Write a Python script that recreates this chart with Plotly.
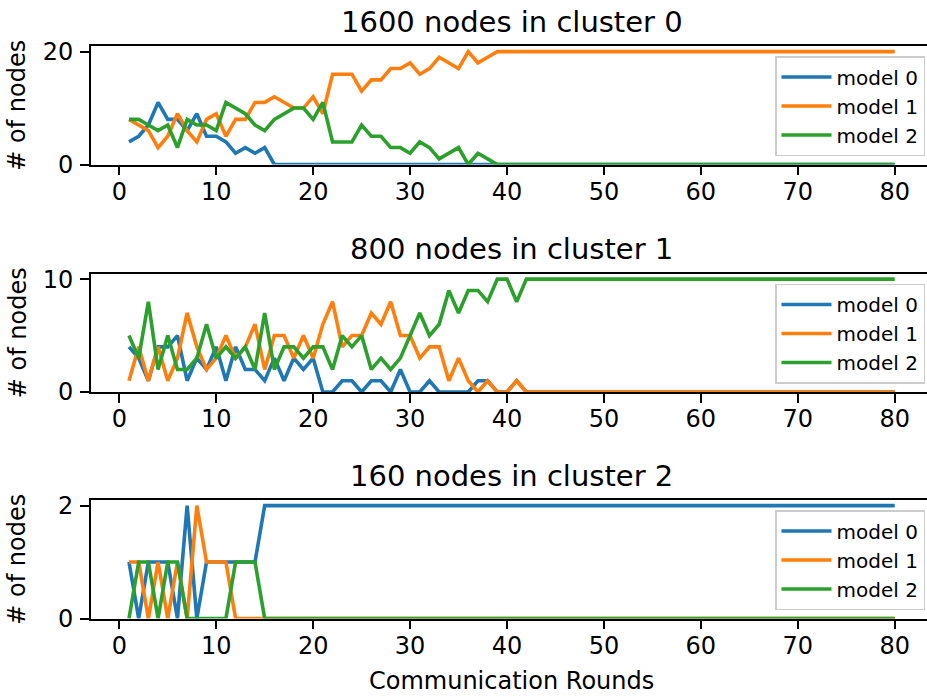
import plotly.graph_objects as go

rounds = list(range(1, 81))

# cluster 0 (1600 nodes)
c0_model0 = [4, 5, 7, 11, 8, 8, 6, 9, 5, 5, 4, 2, 3, 2, 3, 0, 0, 0, 0, 0,
             0, 0, 0, 0, 0, 0, 0, 0, 0, 0, 0, 0, 0, 0, 0, 0, 0, 0, 0, 0,
             0, 0, 0, 0, 0, 0, 0, 0, 0, 0, 0, 0, 0, 0, 0, 0, 0, 0, 0, 0,
             0, 0, 0, 0, 0, 0, 0, 0, 0, 0, 0, 0, 0, 0, 0, 0, 0, 0, 0, 0]
c0_model1 = [8, 7, 6, 3, 5, 9, 6, 4, 8, 9, 5, 8, 8, 11, 11, 12, 11, 10, 10, 12,
             9, 16, 16, 16, 13, 15, 15, 17, 17, 18, 16, 17, 19, 18, 17, 20, 18, 19, 20, 20,
             20, 20, 20, 20, 20, 20, 20, 20, 20, 20, 20, 20, 20, 20, 20, 20, 20, 20, 20, 20,
             20, 20, 20, 20, 20, 20, 20, 20, 20, 20, 20, 20, 20, 20, 20, 20, 20, 20, 20, 20]
c0_model2 = [8, 8, 7, 6, 7, 3, 8, 7, 7, 6, 11, 10, 9, 7, 6, 8, 9, 10, 10, 8,
             11, 4, 4, 4, 7, 5, 5, 3, 3, 2, 4, 3, 1, 2, 3, 0, 2, 1, 0, 0,
             0, 0, 0, 0, 0, 0, 0, 0, 0, 0, 0, 0, 0, 0, 0, 0, 0, 0, 0, 0,
             0, 0, 0, 0, 0, 0, 0, 0, 0, 0, 0, 0, 0, 0, 0, 0, 0, 0, 0, 0]

# cluster 1 (800 nodes)
c1_model0 = [4, 3, 1, 4, 4, 5, 1, 3, 2, 4, 1, 4, 2, 2, 1, 3, 1, 3, 2, 3,
             0, 0, 1, 1, 0, 1, 1, 0, 2, 0, 0, 1, 0, 0, 0, 0, 1, 1, 0, 0,
             1, 0, 0, 0, 0, 0, 0, 0, 0, 0, 0, 0, 0, 0, 0, 0, 0, 0, 0, 0,
             0, 0, 0, 0, 0, 0, 0, 0, 0, 0, 0, 0, 0, 0, 0, 0, 0, 0, 0, 0]
c1_model1 = [1, 4, 1, 4, 1, 3, 7, 4, 2, 3, 5, 3, 4, 6, 2, 5, 5, 3, 5, 3,
             6, 8, 4, 5, 5, 7, 6, 8, 5, 5, 3, 4, 4, 1, 3, 1, 0, 1, 0, 0,
             1, 0, 0, 0, 0, 0, 0, 0, 0, 0, 0, 0, 0, 0, 0, 0, 0, 0, 0, 0,
             0, 0, 0, 0, 0, 0, 0, 0, 0, 0, 0, 0, 0, 0, 0, 0, 0, 0, 0, 0]
c1_model2 = [5, 3, 8, 2, 5, 2, 2, 3, 6, 3, 4, 3, 4, 2, 7, 2, 4, 4, 3, 4,
             4, 2, 5, 4, 5, 2, 3, 2, 3, 5, 7, 5, 6, 9, 7, 9, 9, 8, 10, 10,
             8, 10, 10, 10, 10, 10, 10, 10, 10, 10, 10, 10, 10, 10, 10, 10, 10, 10, 10, 10,
             10, 10, 10, 10, 10, 10, 10, 10, 10, 10, 10, 10, 10, 10, 10, 10, 10, 10, 10, 10]

# cluster 2 (160 nodes)
c2_model0 = [1, 0, 1, 1, 1, 0, 2, 0, 1, 1, 1, 1, 1, 1, 2, 2, 2, 2, 2, 2,
             2, 2, 2, 2, 2, 2, 2, 2, 2, 2, 2, 2, 2, 2, 2, 2, 2, 2, 2, 2,
             2, 2, 2, 2, 2, 2, 2, 2, 2, 2, 2, 2, 2, 2, 2, 2, 2, 2, 2, 2,
             2, 2, 2, 2, 2, 2, 2, 2, 2, 2, 2, 2, 2, 2, 2, 2, 2, 2, 2, 2]
c2_model1 = [1, 1, 0, 1, 0, 1, 0, 2, 1, 1, 1, 0, 0, 0, 0, 0, 0, 0, 0, 0,
             0, 0, 0, 0, 0, 0, 0, 0, 0, 0, 0, 0, 0, 0, 0, 0, 0, 0, 0, 0,
             0, 0, 0, 0, 0, 0, 0, 0, 0, 0, 0, 0, 0, 0, 0, 0, 0, 0, 0, 0,
             0, 0, 0, 0, 0, 0, 0, 0, 0, 0, 0, 0, 0, 0, 0, 0, 0, 0, 0, 0]
c2_model2 = [0, 1, 1, 0, 1, 1, 0, 0, 0, 0, 0, 1, 1, 1, 0, 0, 0, 0, 0, 0,
             0, 0, 0, 0, 0, 0, 0, 0, 0, 0, 0, 0, 0, 0, 0, 0, 0, 0, 0, 0,
             0, 0, 0, 0, 0, 0, 0, 0, 0, 0, 0, 0, 0, 0, 0, 0, 0, 0, 0, 0,
             0, 0, 0, 0, 0, 0, 0, 0, 0, 0, 0, 0, 0, 0, 0, 0, 0, 0, 0, 0]

titles = ["1600 nodes in cluster 0", "800 nodes in cluster 1", "160 nodes in cluster 2"]
series_names = ["model 0", "model 1", "model 2"]
y_maxes = [20, 10, 2]
x_ticks = [0, 10, 20, 30, 40, 50, 60, 70, 80]
panels = [
    [c0_model0, c0_model1, c0_model2],
    [c1_model0, c1_model1, c1_model2],
    [c2_model0, c2_model1, c2_model2],
]

colors = ["#1f77b4", "#ff7f0e", "#2ca02c"]
W, H = 927, 697
FONT = "DejaVu Sans"

# pixel geometry of the panels
x_left = 90.7
panel_tops = [46.0, 273.5, 500.0]
panel_h = 118.5

fig = go.Figure()
layout = dict(
    width=W, height=H, autosize=False,
    margin=dict(l=0, r=0, t=0, b=0, autoexpand=False),
    paper_bgcolor="white", plot_bgcolor="white",
    font=dict(family=FONT, color="black"),
    annotations=[],
)

for i, (series, ymax) in enumerate(zip(panels, y_maxes)):
    sfx = "" if i == 0 else str(i + 1)
    leg = "legend" if i == 0 else "legend" + str(i + 1)
    for j, vals in enumerate(series):
        fig.add_trace(go.Scatter(
            x=rounds, y=vals, mode="lines", name=series_names[j],
            line=dict(color=colors[j], width=3.6),
            xaxis="x" + sfx, yaxis="y" + sfx, legend=leg, showlegend=True,
        ))
    top = panel_tops[i]
    bot = top + panel_h
    layout["xaxis" + sfx] = dict(
        domain=[x_left / W, 1.0], range=[-2.95, 83.33], anchor="y" + sfx,
        tickvals=x_ticks, ticks="outside", ticklen=8.6, tickwidth=2, tickcolor="black",
        showline=True, linecolor="black", linewidth=2, mirror=True,
        showgrid=False, zeroline=False, ticklabelstandoff=-4, automargin=False,
        tickfont=dict(family=FONT, size=24, color="black"),
    )
    layout["yaxis" + sfx] = dict(
        domain=[1 - bot / H, 1 - top / H], range=[0, ymax * 1.05], anchor="x" + sfx,
        tickvals=[0, ymax], ticks="outside", ticklen=8.6, tickwidth=2, tickcolor="black",
        showline=True, linecolor="black", linewidth=2, mirror=False,
        showgrid=False, zeroline=False, ticklabelstandoff=2, automargin=False,
        tickfont=dict(family=FONT, size=24, color="black"),
    )
    layout[leg] = dict(
        x=925 / W, xanchor="right", y=1 - (top + 10) / H, yanchor="top",
        bgcolor="rgba(255,255,255,0.8)", bordercolor="#cccccc", borderwidth=1.5,
        itemwidth=50, tracegroupgap=0,
        font=dict(family=FONT, size=20, color="black"),
    )
    layout["annotations"].append(dict(
        text=titles[i], xref="paper", yref="paper",
        x=(x_left + 933) / 2 / W, y=1 - (top - 24) / H,
        xanchor="center", yanchor="middle", showarrow=False,
        font=dict(family=FONT, size=29, color="black"),
    ))
    layout["annotations"].append(dict(
        text="# of nodes", xref="paper", yref="paper",
        x=17.5 / W, y=1 - (top + panel_h / 2) / H, textangle=-90,
        xanchor="center", yanchor="middle", showarrow=False,
        font=dict(family=FONT, size=24, color="black"),
    ))

layout["annotations"].append(dict(
    text="Communication Rounds", xref="paper", yref="paper",
    x=512 / W, y=1 - 681 / H, xanchor="center", yanchor="middle", showarrow=False,
    font=dict(family=FONT, size=24, color="black"),
))

fig.update_layout(**layout)
fig.write_html("out.html")
